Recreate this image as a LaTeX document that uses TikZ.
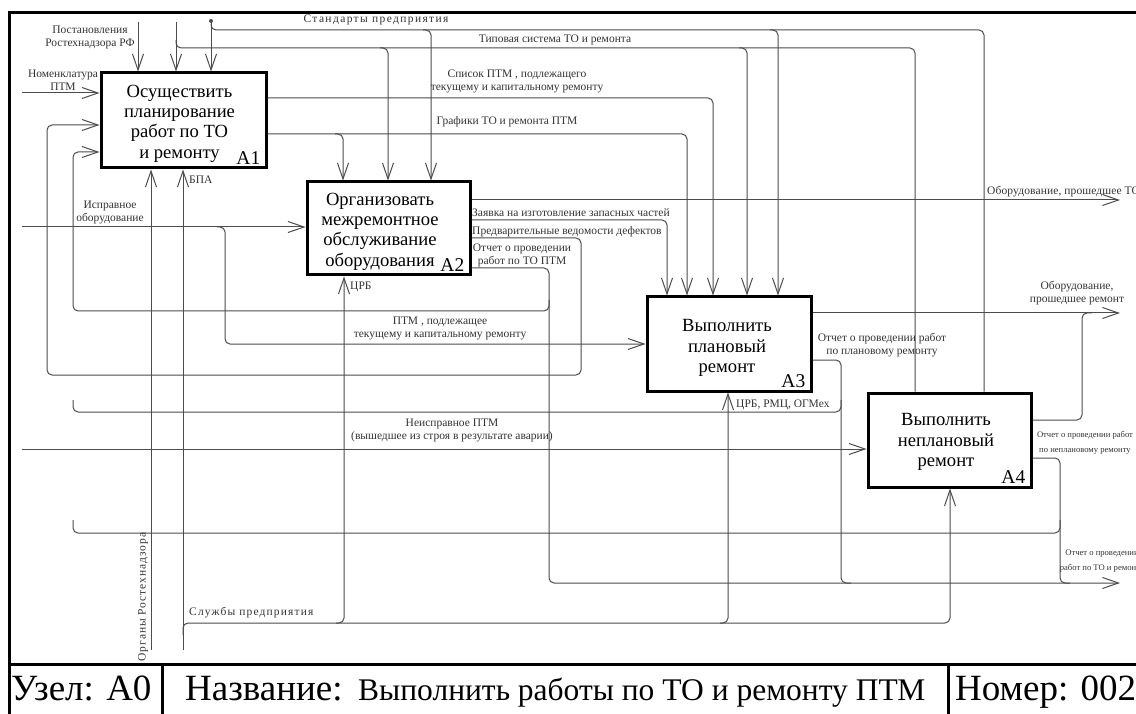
\documentclass[tikz,border=0pt]{standalone}
\usepackage{fontspec}
\setmainfont{Liberation Serif}
\usetikzlibrary{arrows.meta}

\begin{document}
\begin{tikzpicture}[x=1pt, y=-1pt, >={Straight Barb[length=16pt,width=11pt]}, every node/.style={font=\fontsize{11.5}{13}\selectfont, text=black!80, inner sep=0pt}, proc/.style={draw=black, line width=3pt}, ptxt/.style={align=center, text=black, font=\fontsize{18.6}{20.3}\selectfont}, num/.style={anchor=base east, text=black, font=\fontsize{19.5}{20}\selectfont}, arc/.style={draw=black!70, line width=1pt, rounded corners=5pt}, lbl/.style={align=center}, tiny/.style={align=center, font=\fontsize{8.6}{14.5}\selectfont}, frame/.style={line width=3pt}, foot/.style={anchor=base west, text=black, font=\fontsize{37}{40}\selectfont}]
	\path[use as bounding box, clip] (0,0) rectangle (1136,714);
	\fill[white] (0,0) rectangle (1136,714);
	\draw[frame] (9.5,730) -- (9.5,13) -- (1150,13);
	\draw[frame] (9.5,664) -- (1150,664);
	\draw[frame] (162,664) -- (162,730);
	\draw[frame] (948,664) -- (948,730);
	\node[proc, minimum width=165pt, minimum height=95pt] (A1) at (183.5,120.5) {};
	\node[proc, minimum width=163pt, minimum height=93pt] (A2) at (388.5,228.5) {};
	\node[proc, minimum width=164pt, minimum height=94pt] (A3) at (729,344) {};
	\node[proc, minimum width=163pt, minimum height=94pt] (A4) at (949.5,440) {};
	\node[ptxt] (A1t) at ([xshift=-4pt,yshift=-3pt]A1.center) {Осуществить\\планирование\\работ по ТО\\и ремонту};
	\node[ptxt] (A2t) at ([xshift=-8.5pt,yshift=-3pt]A2.center) {Организовать\\межремонтное\\обслуживание\\оборудования};
	\node[ptxt] (A3t) at ([xshift=-2pt,yshift=-4pt]A3.center) {Выполнить\\плановый\\ремонт};
	\node[ptxt] (A4t) at ([xshift=-3.5pt,yshift=-2pt]A4.center) {Выполнить\\неплановый\\ремонт};
	\node[num] (n1) at ([xshift=-7pt,yshift=5pt]A1.south east) {A1};
	\node[num] (n2) at ([xshift=-7pt,yshift=5pt]A2.south east) {A2};
	\node[num] (n3) at ([xshift=-7pt,yshift=5pt]A3.south east) {A3};
	\node[num] (n4) at ([xshift=-7pt,yshift=5pt]A4.south east) {A4};
	\coordinate (inPost) at (138,22);
	\coordinate (inTip) at (176,22);
	\coordinate (inStd) at (211,21);
	\coordinate (inNom) at (22,93);
	\coordinate (inIspr) at (22,227);
	\coordinate (inNeispr) at (22,449);
	\coordinate (inOrg) at (151,650);
	\coordinate (inSl) at (183,650);
	\coordinate (outTO) at (1120,200);
	\coordinate (outRem) at (1120,313);
	\coordinate (outOtch) at (1120,583);
	\coordinate (jTip) at (176,40);
	\coordinate (jStd) at (211,24);
	\coordinate (jTipA2) at (380,48);
	\coordinate (jTipA3) at (739,48);
	\coordinate (jStdA2) at (423,30);
	\coordinate (jStdA3) at (770,30);
	\coordinate (jGrA2) at (335,134);
	\coordinate (jIspr) at (217,227);
	\coordinate (jTOfb) at (549,300);
	\coordinate (jA3fb) at (841,400);
	\coordinate (jA4fb) at (1060,520);
	\coordinate (jSl) at (183,635);
	\coordinate (jSlA2) at (336,623);
	\coordinate (jSlA3) at (720,623);
	\coordinate (mRem) at (1092,313);
	\coordinate (mOt3) at (851,583);
	\coordinate (mOt4) at (1070,583);
	\coordinate (mFb3) at (73,400);
	\coordinate (mFb4) at (73,520);
	\fill[black!70] (inStd) circle (2pt);
	\draw[arc, ->] (inPost) -- (inPost |- A1.north);
	\draw[arc, ->] (inTip) -- (inTip |- A1.north);
	\draw[arc, ->] (inStd) -- (inStd |- A1.north);
	\draw[arc] (jTip) |- (915,48) -- (A4.north -| 915,0);
	\draw[arc, ->] (jTipA2) -| (A2.north -| 388,0);
	\draw[arc, ->] (jTipA3) -| (A3.north -| 747,0);
	\draw[arc] (jStd) |- (984,30) -- (A4.north -| 984,0);
	\draw[arc, ->] (jStdA2) -| (A2.north -| 431,0);
	\draw[arc, ->] (jStdA3) -| (A3.north -| 778,0);
	\draw[arc, ->] (inNom) -- (inNom -| A1.west);
	\draw[arc, ->] (A1.east |- 0,98) -| (A3.north -| 713,0);
	\draw[arc, ->] (A1.east |- 0,134) -| (A3.north -| 687,0);
	\draw[arc, ->] (jGrA2) -| (A2.north -| 343,0);
	\draw[arc, ->] (inIspr) -- (inIspr -| A2.west);
	\draw[arc, ->] (jIspr) -| (225,344) -- (A3.west);
	\draw[arc, ->] (A2.east |- outTO) -- (outTO);
	\draw[arc, ->] (A2.east |- 0,220) -| (A3.north -| 667,0);
	\draw[arc, ->] (A2.east |- 0,238) -| (581,375) -| (47,125) -- (A1.west |- 0,125);
	\draw[arc, ->] (A2.east |- 0,268) -| (549,583) -- (outOtch);
	\draw[arc, ->] (jTOfb) |- (73,311) -- (73,152) -- (A1.west |- 0,152);
	\draw[arc, ->] (A3.east |- outRem) -- (outRem);
	\draw[arc] (A4.east |- 0,420) -| (1082,313) -- (mRem);
	\draw[arc] (A3.east |- 0,360) -| (841,583) -- (mOt3);
	\draw[arc] (jA3fb) |- (73,412) -- (mFb3);
	\draw[arc] (A4.east |- 0,458) -| (1060,583) -- (mOt4);
	\draw[arc] (jA4fb) |- (73,533) -- (mFb4);
	\draw[arc, ->] (inNeispr) -- (inNeispr -| A4.west);
	\draw[arc, ->] (inOrg) -- (inOrg |- A1.south);
	\draw[arc, ->] (inSl) -- (inSl |- A1.south);
	\draw[arc, ->] (jSl) |- (950,623) -- (A4.south -| 950,0);
	\draw[arc, ->] (jSlA2) -| (A2.south -| 344,0);
	\draw[arc, ->] (jSlA3) -| (A3.south -| 728,0);
	\node[lbl] (tPost) at (90,37) {Постановления\\Ростехнадзора РФ};
	\node[lbl] (tNom) at (63,80) {Номенклатура\\ПТМ};
	\node[lbl] (tStd) at (376,20) {\addfontfeatures{LetterSpace=12}Стандарты предприятия};
	\node[lbl] (tTip) at (555,40) {Типовая система ТО и ремонта};
	\node[lbl] (tSpis) at (517,81) {Список ПТМ , подлежащего\\текущему и капитальному ремонту};
	\node[lbl] (tGraf) at (507,122) {Графики ТО и ремонта ПТМ};
	\node[anchor=west] (tBPA) at (189,180) {БПА};
	\node[lbl] (tIspr) at (110,212) {Исправное\\оборудование};
	\node[anchor=west] (tCRB) at (350,287) {ЦРБ};
	\node[anchor=west] (tZay) at (472,213) {Заявка на изготовление запасных частей};
	\node[anchor=west] (tPred) at (472,232) {Предварительные ведомости дефектов};
	\node[lbl] (tOtTO) at (522,255) {Отчет о проведении\\работ по ТО ПТМ};
	\node[lbl] (tPTM) at (440,328) {ПТМ , подлежащее\\текущему и капитальному ремонту};
	\node[lbl] (tNeis) at (452,430) {Неисправное ПТМ\\(вышедшее из строя в результате аварии)};
	\node[anchor=west] (tCRB3) at (736,405) {ЦРБ, РМЦ, ОГМех};
	\node[lbl] (tOtPl) at (882,345) {Отчет о проведении работ\\по плановому ремонту};
	\node[lbl] (tObR) at (1077,293) {Оборудование,\\прошедшее ремонт};
	\node[anchor=west] (tObTO) at (987,192) {\addfontfeatures{LetterSpace=1}Оборудование, прошедшее ТО};
	\node[tiny] (tOtNp) at (1085,443) {Отчет о проведении работ\\по неплановому ремонту};
	\node[tiny] (tOtAll) at (1102,561) {Отчет о проведении\\работ по ТО и ремонту};
	\node[anchor=west] (tSl) at (189,613) {\addfontfeatures{LetterSpace=10}Службы предприятия};
	\node[rotate=90] (tOrg) at (143,597) {\addfontfeatures{LetterSpace=8}Органы Ростехнадзора};
	\node[foot] (fUzel) at (11,700) {Узел: А0};
	\node[foot] (fName) at (185,700) {Название:};
	\node[foot, font=\fontsize{31.5}{34}\selectfont] (fTitle) at (358,700) {Выполнить работы по ТО и ремонту ПТМ};
	\node[foot] (fNum) at (955,700) {Номер: 002};
\end{tikzpicture}
\end{document}
